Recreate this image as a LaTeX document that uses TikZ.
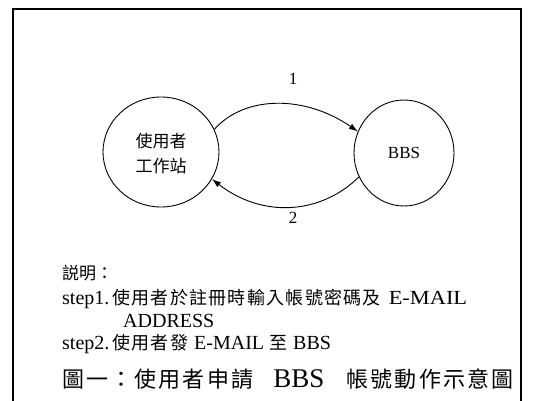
\documentclass[tikz,border=0pt]{standalone}
\usepackage{fontspec}
\setmainfont{Liberation Serif}
\newfontfamily\cjk{Noto Sans CJK TC}
\newfontfamily\cjkwide[LetterSpace=7]{Noto Sans CJK TC}
\newfontfamily\cjkcap[LetterSpace=10]{Noto Sans CJK TC}
\usetikzlibrary{shapes.geometric,arrows.meta}
\newcommand{\wideE}{\scalebox{1.12}[1]{E-MAIL}}
\begin{document}
\begin{tikzpicture}[x=1pt,y=-1pt,
  station/.style={draw,ellipse,line width=0.9pt,inner sep=0pt},
  flow/.style={line width=0.9pt,-{Latex[length=9pt,width=6pt]}},
  lbl/.style={inner sep=0pt,font=\fontsize{17}{20}\selectfont},
  txt/.style={inner sep=0pt,anchor=base west,font=\fontsize{20}{22}\selectfont},
  frame/.style={line width=1.4pt}]
\useasboundingbox (0,0) rectangle (544,401);
\clip (0,0) rectangle (544,401);
\fill[white] (0,0) rectangle (544,401);
% frame
\coordinate (fa) at (13,420);
\coordinate (fb) at (13,9);
\coordinate (fc) at (521,9);
\coordinate (fd) at (521,420);
\draw[frame] (fa) -- (fb) -- (fc) -- (fd);
% nodes
\node[station,minimum width=116pt,minimum height=110pt] (u) at (161,152) {};
\node[lbl,align=center,font=\cjk\fontsize{17}{25}\selectfont] (ut) at (161,154) {使用者\\工作站};
\node[station,minimum width=100pt,minimum height=106pt] (b) at (404,153) {};
\node[lbl] (bt) at (404,153) {BBS};
% arrows
\draw[flow] (u.23) .. controls (245,95) and (305,95) .. (b.155);
\draw[flow] (b.208) .. controls (320,215) and (262,218) .. (u.-28);
\node[lbl] (l1) at (293,79) {1};
\node[lbl] (l2) at (293,218) {2};
% explanation
\node[txt] (t0) at (62,279) {\cjk\fontsize{17}{20}\selectfont 説明：};
\node[txt] (t1) at (62,304) {step1.\hspace{3pt}{\cjkwide\fontsize{18}{20}\selectfont 使用者於註冊時輸入帳號密碼及}\hspace{8pt}\wideE};
\node[txt] (t2) at (123,327) {ADDRESS};
\node[txt] (t3) at (62,349) {step2.\hspace{3pt}{\cjkwide\fontsize{18}{20}\selectfont 使用者發}\hspace{6pt}E-MAIL\hspace{5pt}{\cjk\fontsize{18}{20}\selectfont 至}\hspace{6pt}BBS};
% caption
\node[txt] (cap) at (62,387) {{\cjkcap\fontsize{22}{26}\selectfont 圖一：\hspace{2pt}使用者申請}\hspace{20pt}{\fontsize{27}{30}\selectfont BBS}\hspace{22pt}{\cjkcap\fontsize{22}{26}\selectfont 帳號動作示意圖}};
\end{tikzpicture}
\end{document}
